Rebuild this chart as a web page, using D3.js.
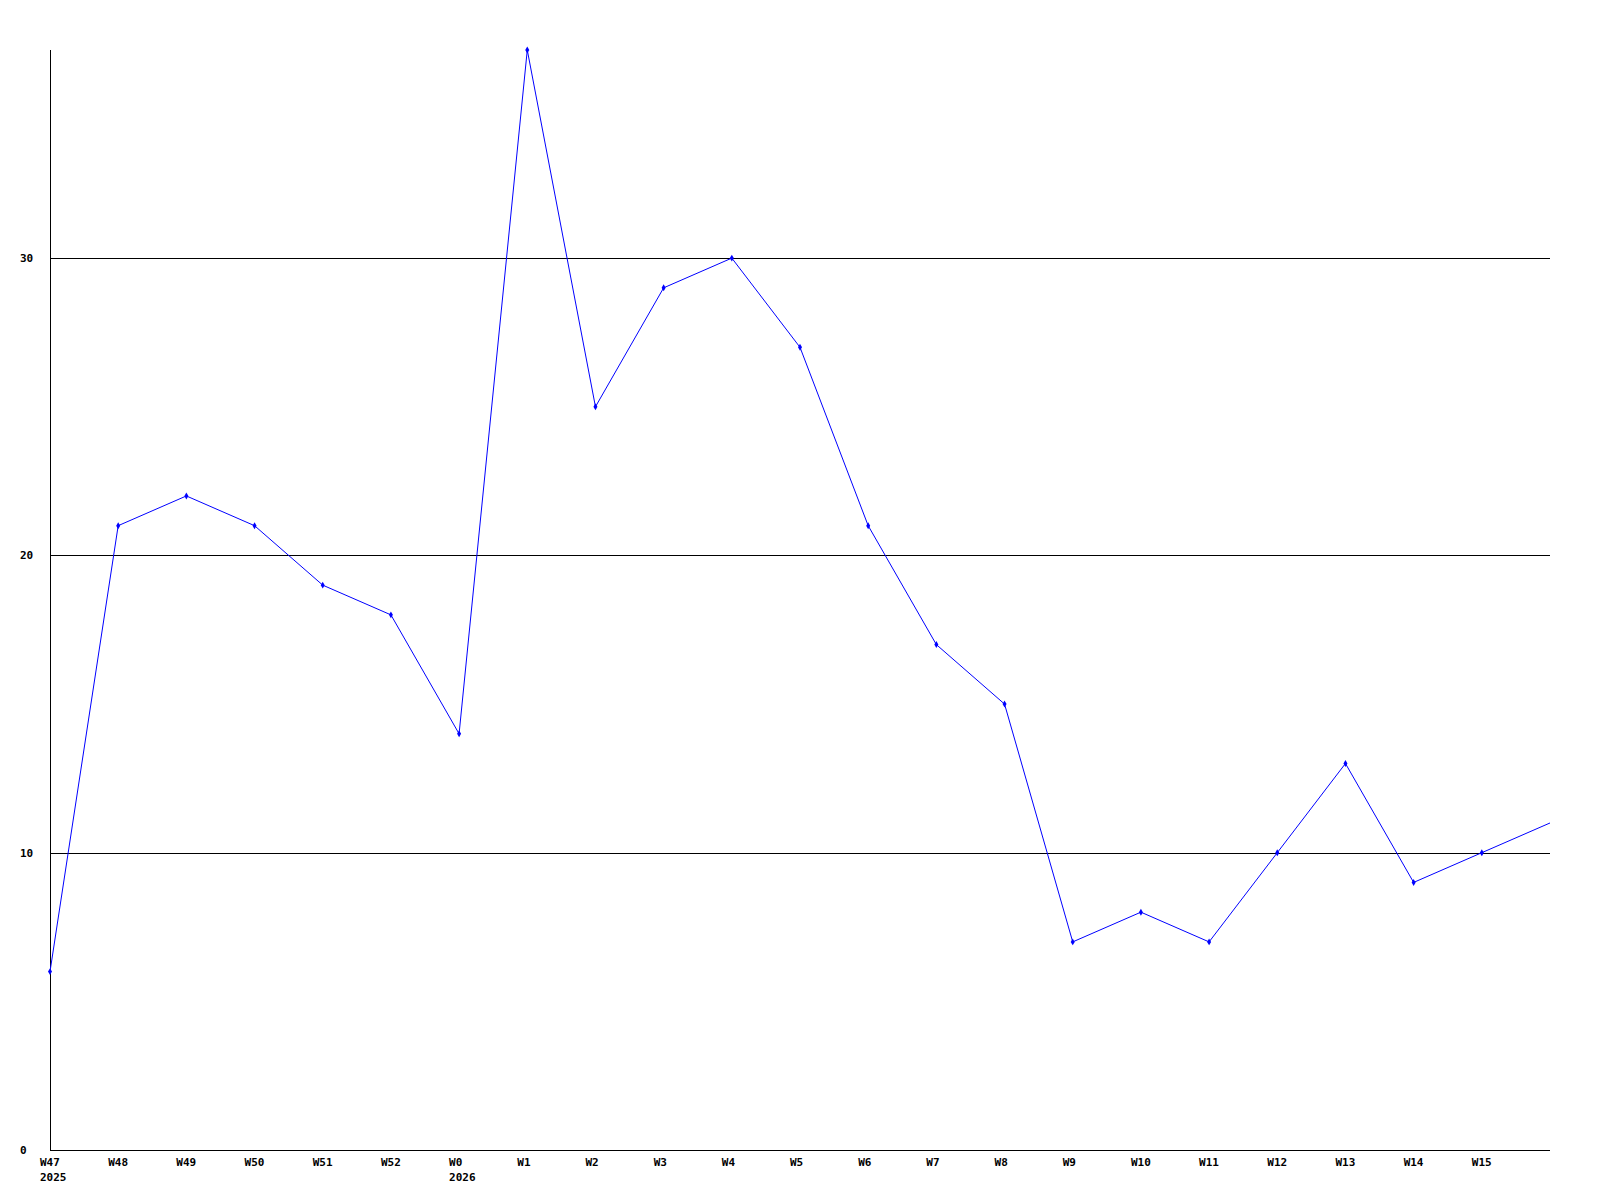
<!DOCTYPE html>
<html><head><meta charset="utf-8">
<script src="https://cdn.jsdelivr.net/npm/d3@7"></script>
<style>body{margin:0;background:#fff}svg{display:block}text{font-family:"DejaVu Sans Mono",monospace;font-weight:bold;font-size:11px;fill:#000}</style>
</head><body><svg id="c" width="1600" height="1200"></svg>
<script>
const weeks = ["W47","W48","W49","W50","W51","W52","W0","W1","W2","W3","W4","W5","W6","W7","W8","W9","W10","W11","W12","W13","W14","W15","W16"];
const yearLabels = {"W47":"2025","W0":"2026"};
const values = [6,21,22,21,19,18,14,37,25,29,30,27,21,17,15,7,8,7,10,13,9,10,11];
const yTicks = [0,10,20,30];
const hiddenLabels = ["W16"];

const svg = d3.select("#c");
const x = d3.scalePoint().domain(weeks).range([50,1550]);
const y = d3.scaleLinear().domain([0,37]).range([1150,50]);

// gridlines
svg.selectAll("line.grid").data(yTicks.filter(d=>d>0)).enter().append("line")
  .attr("x1",50).attr("x2",1550).attr("y1",d=>Math.round(y(d))+0.5).attr("y2",d=>Math.round(y(d))+0.5)
  .attr("stroke","#000").attr("stroke-width",1);
// axes
svg.append("line").attr("x1",50.5).attr("x2",50.5).attr("y1",50).attr("y2",1150).attr("stroke","#000");
svg.append("line").attr("x1",50).attr("x2",1550).attr("y1",1150.5).attr("y2",1150.5).attr("stroke","#000");
// y labels
svg.selectAll("text.yl").data(yTicks).enter().append("text")
  .attr("x",20).attr("y",d=>y(d)).attr("dy","0.35em").text(d=>d);
// x labels
const shown = weeks.filter(w=>!hiddenLabels.includes(w));
svg.selectAll("text.xl").data(shown).enter().append("text")
  .attr("x",d=>x(d)-10).attr("y",1166).text(d=>d);
svg.selectAll("text.yr").data(shown.filter(w=>yearLabels[w])).enter().append("text")
  .attr("x",d=>x(d)-10).attr("y",1181).text(d=>yearLabels[d]);
// line
const line = d3.line().x((d,i)=>x(weeks[i])).y(d=>y(d));
svg.append("path").datum(values).attr("d",line).attr("fill","none").attr("stroke","#0000ff").attr("stroke-width",1);
// markers (none at the clipped right edge)
const marked = values.map((v,i)=>({w:weeks[i],v})).filter(d=>!hiddenLabels.includes(d.w));
svg.selectAll("path.m").data(marked).enter().append("path")
  .attr("d",d3.symbol().type(d3.symbolDiamond).size(14))
  .attr("transform",d=>`translate(${x(d.w)},${y(d.v)})`)
  .attr("fill","#0000ff");
</script></body></html>
